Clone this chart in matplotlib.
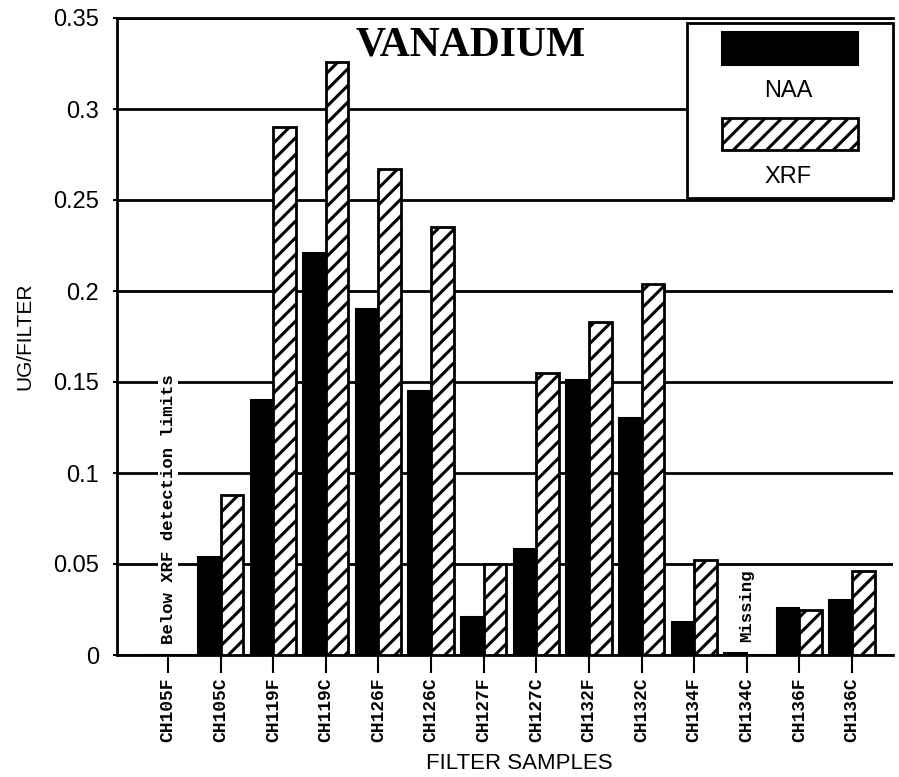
import numpy as np
import matplotlib
matplotlib.use('Agg')
import matplotlib.pyplot as plt
from matplotlib.patches import Rectangle

samples = ['CH105F', 'CH105C', 'CH119F', 'CH119C', 'CH126F', 'CH126C', 'CH127F',
           'CH127C', 'CH132F', 'CH132C', 'CH134F', 'CH134C', 'CH136F', 'CH136C']
naa = [0.0, 0.054, 0.140, 0.221, 0.190, 0.145, 0.021, 0.058, 0.151, 0.130, 0.018, 0.001, 0.026, 0.030]
xrf = [0.0, 0.088, 0.290, 0.326, 0.267, 0.235, 0.050, 0.155, 0.183, 0.204, 0.052, 0.0, 0.025, 0.046]
yticks = [0, 0.05, 0.1, 0.15, 0.2, 0.25, 0.3, 0.35]
ytick_labels = ['0', '0.05', '0.1', '0.15', '0.2', '0.25', '0.3', '0.35']

plt.rcParams['hatch.linewidth'] = 2.2
plt.rcParams['hatch.color'] = 'black'

W, H = 899, 777
fig = plt.figure(figsize=(W / 100, H / 100), dpi=100)
ax = fig.add_axes([117 / W, (H - 655) / H, 776 / W, 637 / H])

x = np.arange(len(samples))
bw = 0.43
for y in yticks:
    ax.axhline(y, color='black', lw=2, zorder=1)
ax.bar(x - bw / 2, naa, bw, color='black', edgecolor='black', lw=1.5, zorder=3)
ax.bar(x + bw / 2, xrf, bw, color='white', edgecolor='black', hatch='//', lw=2, zorder=3)

ax.set_xlim(-0.97, 13.78)
ax.set_ylim(0, 0.35)
ax.set_yticks(yticks)
ax.set_yticklabels(ytick_labels, fontsize=17, family='Liberation Sans')
ax.set_xticks(x)
ax.set_xticklabels(samples, rotation=90, fontsize=13, family='Liberation Mono', fontweight='bold')
ax.tick_params(axis='x', direction='out', length=13, width=1.5, pad=3)
ax.tick_params(axis='y', direction='out', length=3, width=1.5, pad=10)

for s in ['left', 'bottom', 'top']:
    ax.spines[s].set_linewidth(2)
ax.spines['right'].set_visible(False)

ax.set_ylabel('UG/FILTER', fontsize=15, family='Liberation Sans')
ax.yaxis.set_label_coords(-0.106, 0.5)
ax.set_xlabel('FILTER SAMPLES', fontsize=16, family='Liberation Sans')
ax.xaxis.set_label_coords(0.519, -0.154)

note_box = dict(facecolor='white', edgecolor='none', pad=2)
ax.text(0, 0.006, 'Below XRF detection limits', rotation=90, ha='center', va='bottom',
        fontsize=12.5, family='Liberation Mono', fontweight='bold', zorder=4, bbox=note_box)
ax.text(11, 0.007, 'Missing', rotation=90, ha='center', va='bottom',
        fontsize=12.5, family='Liberation Mono', fontweight='bold', zorder=4, bbox=note_box)

fig.text(471 / W, 1 - 45 / H, 'VANADIUM', ha='center', va='center',
         fontsize=30, family='Liberation Serif', fontweight='bold')


# legend drawn by hand: swatch above its label, inside a framed box
def px(x0, y0, x1, y1):
    return (x0 / W, 1 - y1 / H), (x1 - x0) / W, (y1 - y0) / H


xy, w, h = px(687, 23, 893, 198)
fig.patches.append(Rectangle(xy, w, h, transform=fig.transFigure, facecolor='white',
                             edgecolor='black', lw=2, zorder=5))
xy, w, h = px(722, 32, 858, 65)
fig.patches.append(Rectangle(xy, w, h, transform=fig.transFigure, facecolor='black',
                             edgecolor='black', lw=1.5, zorder=6))
xy, w, h = px(722, 118, 858, 150)
fig.patches.append(Rectangle(xy, w, h, transform=fig.transFigure, facecolor='white',
                             edgecolor='black', hatch='//', lw=2, zorder=6))
fig.text(788 / W, 1 - 91 / H, 'NAA', ha='center', va='center', fontsize=17,
         family='Liberation Sans', zorder=7)
fig.text(788 / W, 1 - 177 / H, 'XRF', ha='center', va='center', fontsize=17,
         family='Liberation Sans', zorder=7)

fig.savefig('out.png', dpi=100)
